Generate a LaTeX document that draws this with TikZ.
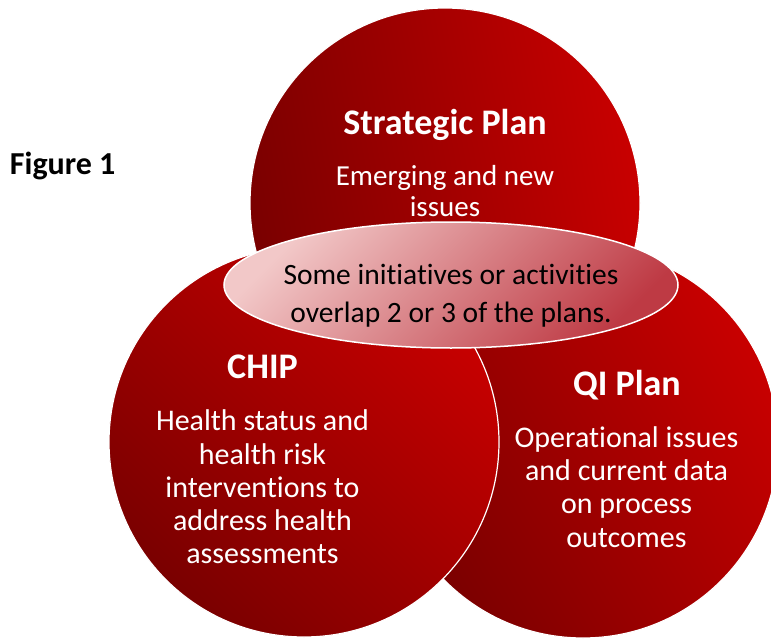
\documentclass[tikz,border=0pt]{standalone}
\usepackage{fontspec}
\setmainfont{Carlito}[Ligatures=NoCommon]
\usetikzlibrary{shapes.geometric}
\definecolor{plandark}{HTML}{7A0000}
\definecolor{planred}{HTML}{C80000}
\definecolor{overlaplight}{HTML}{F2C8C8}
\definecolor{overlapdark}{HTML}{BE3A44}
\tikzset{
  plan/.style={circle, minimum size=390pt, inner sep=0pt, draw=white, line width=1.2pt,
    left color=plandark, right color=planred},
  heading/.style={text=white, inner sep=0pt, font=\bfseries\fontsize{36}{40}\selectfont},
  blurb/.style={text=white, inner sep=0pt, align=center, font=\fontsize{30}{33.2}\selectfont},
}
\begin{document}
\begin{tikzpicture}[x=1pt, y=-1pt]
  \useasboundingbox (0,0) rectangle (771,642);
  \clip (0,0) rectangle (771,642);
  % the three plans
  \node[plan, shading angle=100] (strat) at (445,203) {};
  \node[plan, shading angle=120] (qi) at (583,443) {};
  \node[plan, shading angle=135] (chip) at (304,442) {};
  % where they meet
  \node[ellipse, minimum width=454pt, minimum height=126pt, draw=white, line width=1.5pt,
    left color=overlaplight, right color=overlapdark, shading angle=45] (overlap) at (451,285) {};
  \node[inner sep=0pt, align=center, font=\fontsize{29.5}{38}\selectfont] (overlaptext) at (451,296)
    {Some initiatives or activities\\overlap 2 or 3 of the plans.};
  % labels
  \node[heading] (strattitle) at (445,125) {Strategic Plan};
  \node[blurb, font=\fontsize{29}{30.5}\selectfont] (stratnote) at (445,191) {Emerging and new\\issues};
  \node[heading] (chiptitle) at (262.5,366.5) {CHIP};
  \node[blurb] (chipnote) at (262.5,487)
    {Health status and\\health risk\\interventions to\\address health\\assessments};
  \node[heading] (qititle) at (627,385) {QI Plan};
  \node[blurb] (qinote) at (626.5,487)
    {Operational issues\\and current data\\on process\\outcomes};
  \node[inner sep=0pt, font=\bfseries\fontsize{32}{36}\selectfont] (figlabel) at (62.7,166) {Figure 1};
\end{tikzpicture}
\end{document}
